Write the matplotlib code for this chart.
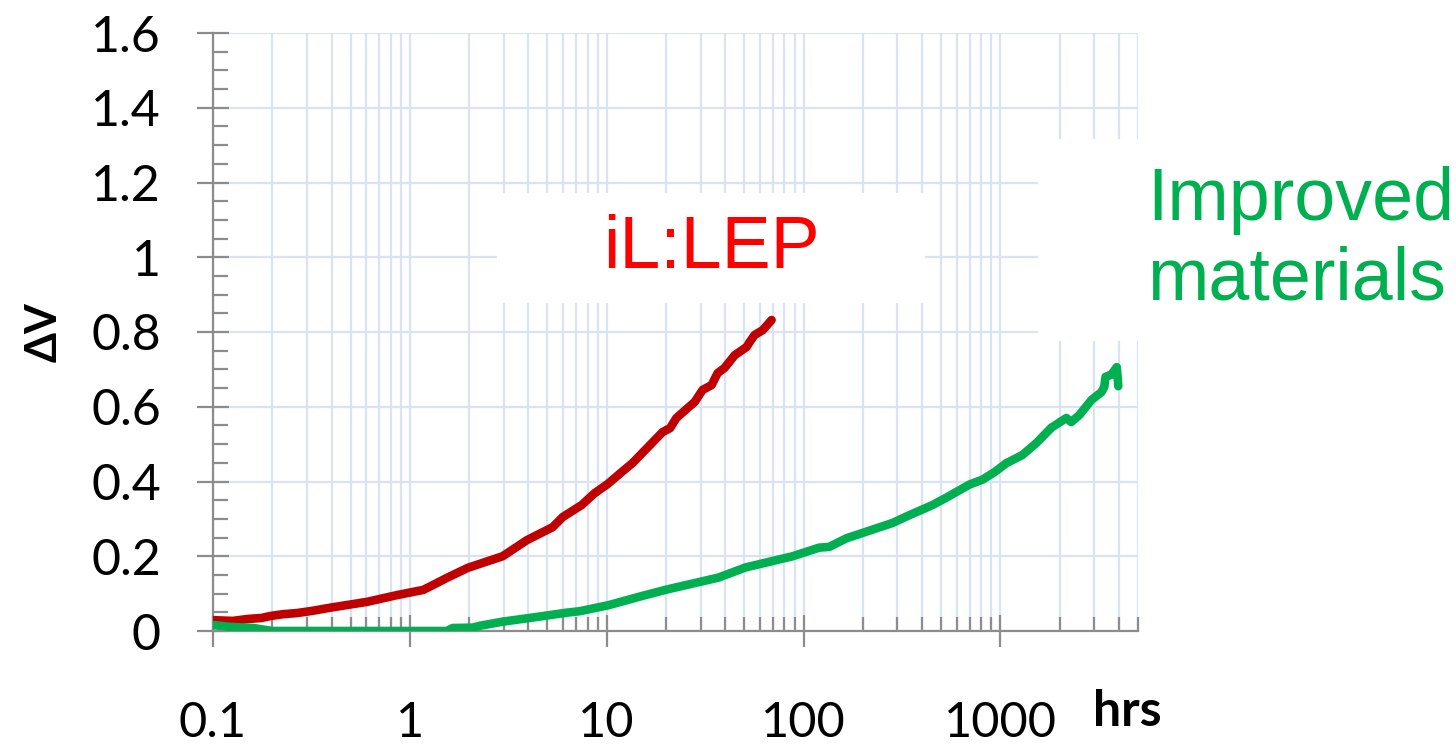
import matplotlib
matplotlib.use("Agg")
import matplotlib.pyplot as plt
from matplotlib.patches import Rectangle
from matplotlib.ticker import FixedLocator, LogLocator, NullFormatter, FuncFormatter

# degradation curves: delta V vs. operating time (hrs)
red_t = [0.1, 0.126, 0.149, 0.177, 0.195, 0.227, 0.267, 0.32, 0.39, 0.606, 0.86,
         1.17, 1.31, 1.54, 1.97, 2.96, 3.93, 5.32, 5.98, 7.46, 8.69, 10.1, 11.9,
         13.5, 19.2, 21.0, 22.6, 28.0, 30.7, 34.1, 36.6, 39.7, 44.7, 51.4, 53.2,
         56.4, 62.0, 68.8]
red_v = [0.029, 0.027, 0.032, 0.035, 0.040, 0.045, 0.048, 0.054, 0.062, 0.078, 0.096,
         0.110, 0.123, 0.142, 0.169, 0.200, 0.243, 0.278, 0.305, 0.337, 0.369, 0.393,
         0.425, 0.449, 0.532, 0.543, 0.570, 0.613, 0.645, 0.658, 0.690, 0.704, 0.738,
         0.760, 0.773, 0.792, 0.805, 0.832]

green_t = [0.1, 0.122, 0.16, 0.2, 0.5, 1.0, 1.54, 1.65, 2.08, 2.27, 2.96, 4.2, 6.26,
           7.3, 10.2, 15.2, 20.2, 37.0, 50.7, 88, 120, 135, 165, 283, 345, 452, 532,
           697, 811, 933, 1072, 1294, 1523, 1815, 2163, 2289, 2518, 2897, 3258, 3370,
           3420, 3665, 3900, 3950, 3970]
green_v = [0.016, 0.011, 0.008, 0.0, 0.0, 0.0, 0.0, 0.008, 0.009, 0.014, 0.025, 0.036,
           0.049, 0.053, 0.069, 0.094, 0.111, 0.143, 0.170, 0.200, 0.223, 0.225, 0.248,
           0.289, 0.310, 0.337, 0.357, 0.392, 0.405, 0.425, 0.449, 0.471, 0.503, 0.544,
           0.570, 0.559, 0.578, 0.618, 0.639, 0.653, 0.680, 0.686, 0.706, 0.672, 0.655]

x_ticks = [0.1, 1, 10, 100, 1000]
y_ticks = [0, 0.2, 0.4, 0.6, 0.8, 1.0, 1.2, 1.4, 1.6]

AXIS_GREY = "#8c8c8c"
GRID = "#dae3f3"
TICK_FONT = ["Lato", "DejaVu Sans"]

fig = plt.figure(figsize=(14.56, 7.45), dpi=100)
ax = fig.add_axes([213 / 1456, 1 - 631 / 745, (1138 - 213) / 1456, (631 - 33) / 745])

ax.set_xscale("log")
ax.set_xlim(0.1, 5000)
ax.set_ylim(0, 1.6)

ax.plot(red_t, red_v, color="#c00000", lw=6.2, solid_capstyle="round",
        solid_joinstyle="round", zorder=5)
ax.plot(green_t, green_v, color="#00b050", lw=6.2, solid_capstyle="round",
        solid_joinstyle="round", zorder=5)

# ticks
ax.xaxis.set_major_locator(FixedLocator(x_ticks))
ax.xaxis.set_minor_locator(LogLocator(base=10, subs=range(2, 10), numticks=20))
ax.xaxis.set_major_formatter(FuncFormatter(lambda v, p: f"{v:g}"))
ax.xaxis.set_minor_formatter(NullFormatter())
ax.yaxis.set_major_locator(FixedLocator(y_ticks))
ax.yaxis.set_minor_locator(FixedLocator([i * 0.05 for i in range(33)]))
ax.yaxis.set_major_formatter(FuncFormatter(lambda v, p: f"{v:g}"))

ax.tick_params(axis="both", which="major", direction="inout", length=23, width=1.6,
               color=AXIS_GREY)
ax.tick_params(axis="x", which="minor", direction="in", length=10, width=1.6,
               color=AXIS_GREY)
ax.tick_params(axis="y", which="minor", direction="in", length=11, width=1.6,
               color=AXIS_GREY)
ax.tick_params(axis="x", which="major", pad=39)
ax.tick_params(axis="y", which="major", pad=26)
for lab in ax.get_xticklabels():
    lab.set_fontfamily(TICK_FONT)
    lab.set_fontsize(35)
for lab in ax.get_yticklabels():
    lab.set_fontfamily(TICK_FONT)
    lab.set_fontsize(36)

for side in ("top", "right"):
    ax.spines[side].set_visible(False)
for side in ("left", "bottom"):
    ax.spines[side].set_color(AXIS_GREY)
    ax.spines[side].set_linewidth(1.6)

ax.grid(True, axis="x", which="both", color=GRID, lw=1.6, zorder=0)
ax.grid(True, axis="y", which="major", color=GRID, lw=1.6, zorder=0)
ax.set_axisbelow(True)

ax.set_ylabel("ΔV", fontfamily=TICK_FONT, fontweight="bold", fontsize=31, labelpad=20)
fig.text(1127 / 1456, 1 - 712 / 745, "hrs", fontfamily=TICK_FONT, fontweight="bold",
         fontsize=36, ha="center", va="center")

# white label panels over the grid
W, H = 1456, 745
for x0, y0, x1, y1 in [(497, 193, 925, 303), (1038, 139, 1460, 341)]:
    fig.add_artist(Rectangle((x0 / W, 1 - y1 / H), (x1 - x0) / W, (y1 - y0) / H,
                             transform=fig.transFigure, facecolor="white",
                             edgecolor="none", zorder=3))

fig.text(711 / W, 1 - 248 / H, "iL:LEP", color="#ff0000", fontfamily="Liberation Sans",
         fontsize=53, ha="center", va="center", zorder=4)
fig.text(1147 / W, 1 - 240 / H, "Improved\nmaterials", color="#00b050",
         fontfamily="Liberation Sans", fontsize=53, ha="left", va="center",
         linespacing=1.2, zorder=4)

fig.savefig("out.png", dpi=100)
